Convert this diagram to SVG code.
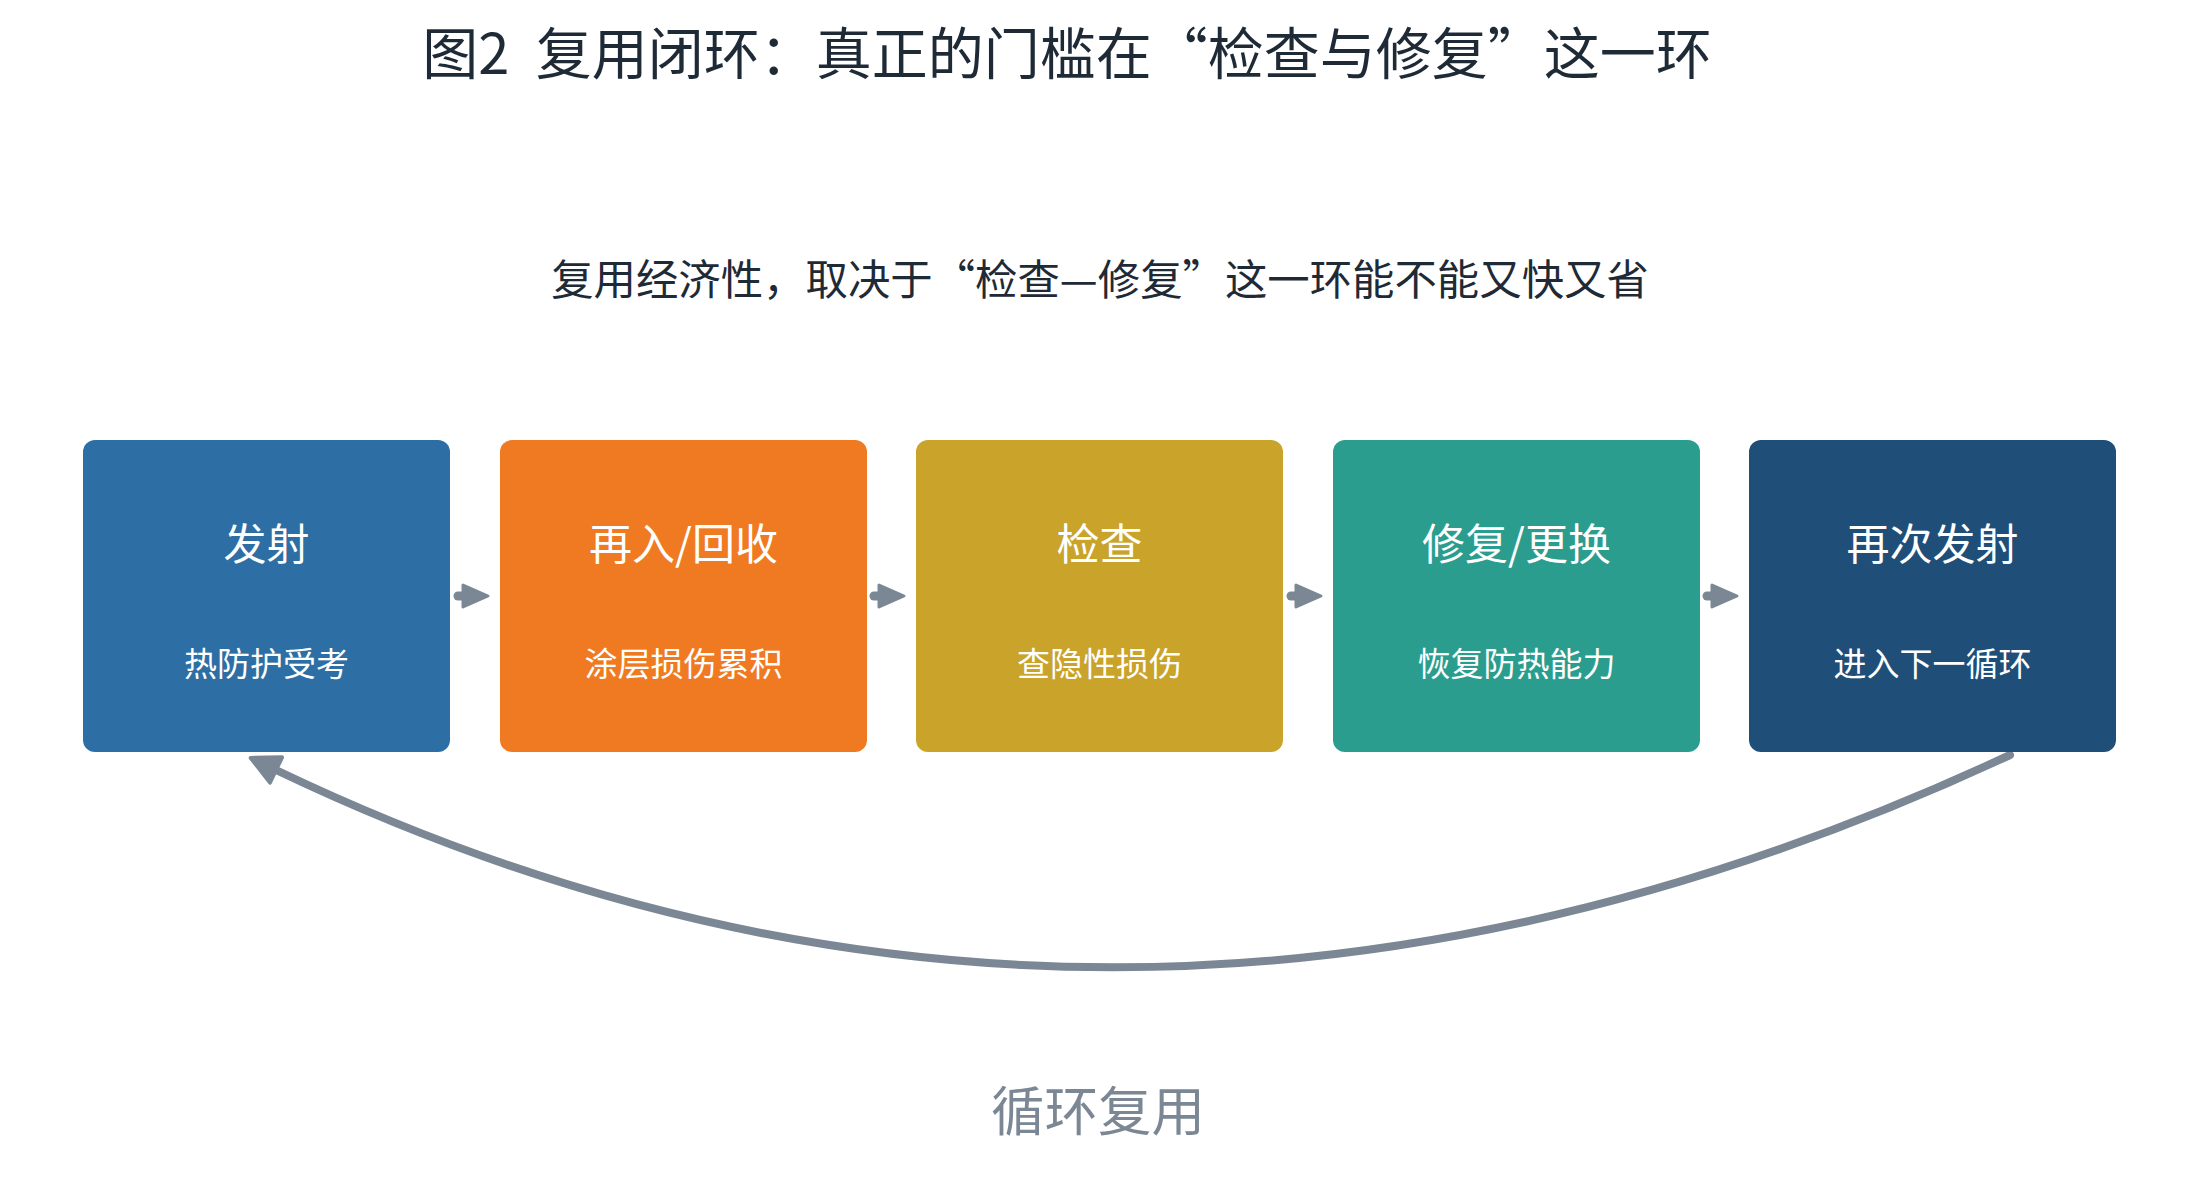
<svg xmlns="http://www.w3.org/2000/svg" width="2199" height="1181" viewBox="0 0 2199 1181">
  <style>
    text { font-family: "Noto Sans CJK SC", "Noto Sans", sans-serif; text-anchor: middle; }
    .title { font-size: 56px; fill: #1f2a37; }
    .sub { font-size: 42.4px; fill: #1f2a37; }
    .nt { font-size: 43px; fill: #ffffff; }
    .nd { font-size: 33px; fill: #ffffff; }
    .loop { font-size: 53.5px; fill: #7b8794; }
    .box { stroke: none; }
    .conn { stroke: #7b8794; fill: none; stroke-linecap: round; }
  </style>
  <defs>
    <marker id="ahSmall" markerUnits="userSpaceOnUse" markerWidth="40" markerHeight="40" refX="0" refY="0" viewBox="-4 -20 40 40" orient="auto">
      <path d="M0,-11 L25,0 L0,11 Z" fill="#7b8794" stroke="#7b8794" stroke-width="3" stroke-linejoin="round"/>
    </marker>
    <marker id="ahLoop" markerUnits="userSpaceOnUse" markerWidth="50" markerHeight="50" refX="0" refY="0" viewBox="-5 -25 50 50" orient="auto">
      <path d="M0,-14 L28,0 L0,14 Z" fill="#7b8794" stroke="#7b8794" stroke-width="4" stroke-linejoin="round"/>
    </marker>
  </defs>
  <rect width="2199" height="1181" fill="#ffffff"/>

  <text class="title" x="1067" y="74">图2<tspan dx="14"> 复用闭环：真正的门槛在“检查与修复”这一环</tspan></text>
  <text class="sub" x="1100" y="295">复用经济性，取决于“检查—修复”这一环能不能又快又省</text>

  <g id="connectors">
    <line class="conn" x1="458" y1="596" x2="463" y2="596" stroke-width="9" marker-end="url(#ahSmall)"/>
    <line class="conn" x1="874" y1="596" x2="879" y2="596" stroke-width="9" marker-end="url(#ahSmall)"/>
    <line class="conn" x1="1291" y1="596" x2="1296" y2="596" stroke-width="9" marker-end="url(#ahSmall)"/>
    <line class="conn" x1="1707" y1="596" x2="1712" y2="596" stroke-width="9" marker-end="url(#ahSmall)"/>
    <path class="conn" d="M2010,755 Q1116,1172 276,770" stroke-width="8" marker-end="url(#ahLoop)"/>
  </g>

  <g id="node-launch">
    <rect class="box" x="83" y="440" width="367" height="312" rx="12" fill="#2d6fa5"/>
    <text class="nt" x="266.5" y="560">发射</text>
    <text class="nd" x="266.5" y="676">热防护受考</text>
  </g>
  <g id="node-reentry">
    <rect class="box" x="500" y="440" width="367" height="312" rx="12" fill="#f07a22"/>
    <text class="nt" x="683.5" y="560">再入/回收</text>
    <text class="nd" x="683.5" y="676">涂层损伤累积</text>
  </g>
  <g id="node-inspect">
    <rect class="box" x="916" y="440" width="367" height="312" rx="12" fill="#c9a32a"/>
    <text class="nt" x="1099.5" y="560">检查</text>
    <text class="nd" x="1099.5" y="676">查隐性损伤</text>
  </g>
  <g id="node-repair">
    <rect class="box" x="1333" y="440" width="367" height="312" rx="12" fill="#2a9d8f"/>
    <text class="nt" x="1516.5" y="560">修复/更换</text>
    <text class="nd" x="1516.5" y="676">恢复防热能力</text>
  </g>
  <g id="node-relaunch">
    <rect class="box" x="1749" y="440" width="367" height="312" rx="12" fill="#1f4e79"/>
    <text class="nt" x="1932.5" y="560">再次发射</text>
    <text class="nd" x="1932.5" y="676">进入下一循环</text>
  </g>

  <text class="loop" x="1098" y="1131">循环复用</text>
</svg>
